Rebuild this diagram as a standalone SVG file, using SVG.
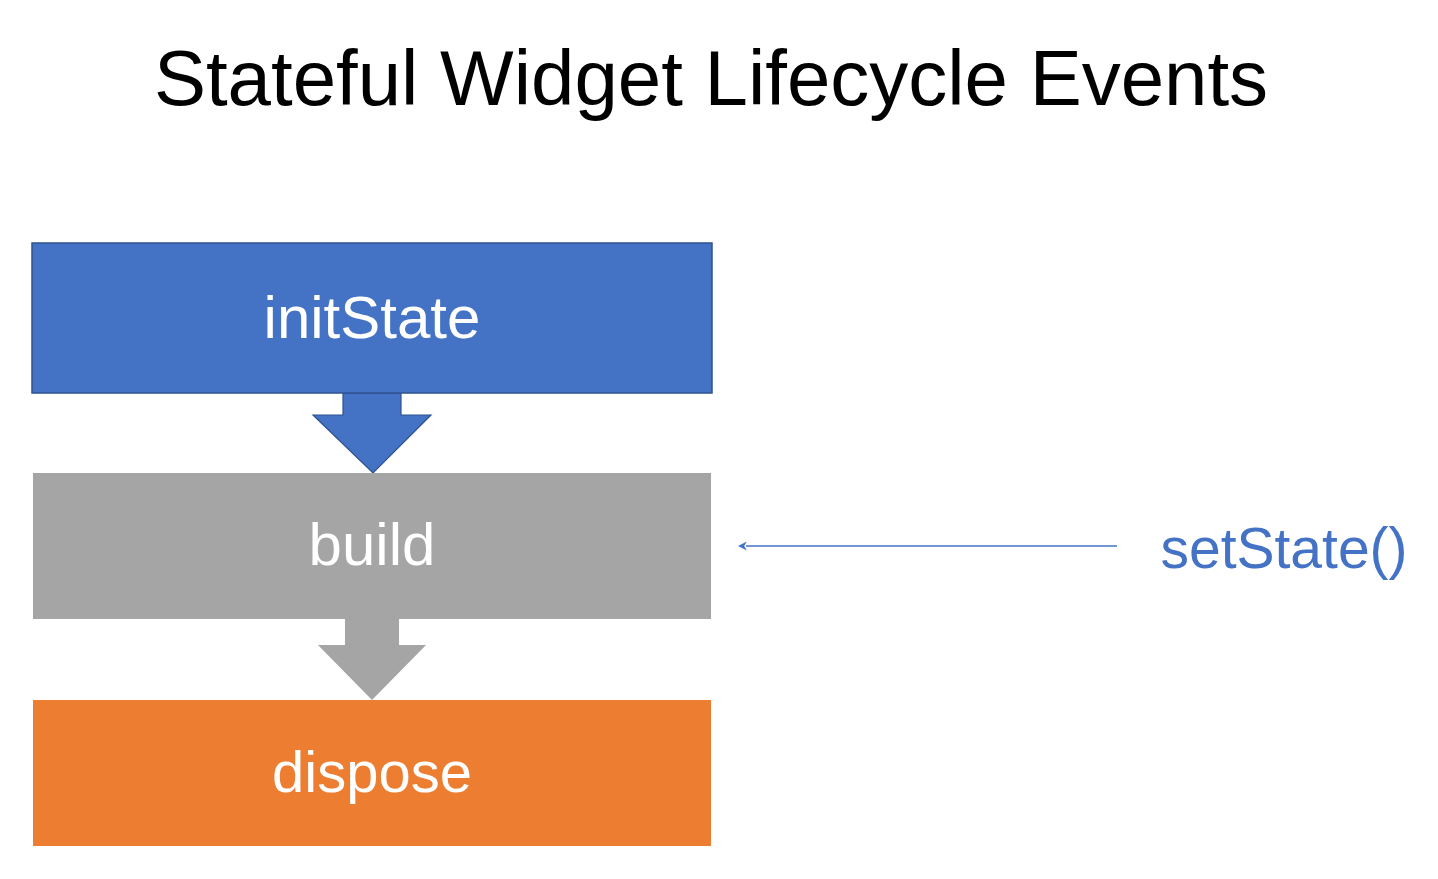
<svg xmlns="http://www.w3.org/2000/svg" width="1438" height="879" viewBox="0 0 1438 879">
<style>
.t{font-family:"Liberation Sans",Arial,sans-serif;text-anchor:middle}
.w{fill:#ffffff}
</style>
<defs>
<marker id="ah" viewBox="0 0 10 10" refX="1" refY="5" markerWidth="6" markerHeight="6" orient="auto-start-reverse" markerUnits="strokeWidth">
<path d="M0,0 L10,5 L0,10 L3,5 Z" fill="#4472C4"/>
</marker>
</defs>
<rect width="1438" height="879" fill="#ffffff"/>
<text class="t" x="711" y="105" font-size="78" fill="#000000">Stateful Widget Lifecycle Events</text>
<g id="connectors">
<path d="M343,393 L401,393 L401,415 L431,415 L373,473 L313,415 L343,415 Z" fill="#4472C4" stroke="#2F528F" stroke-width="1.2"/>
<path d="M345,619 L399,619 L399,645 L426,645 L372,700 L318,645 L345,645 Z" fill="#A5A5A5"/>
<line x1="1117" y1="546" x2="746" y2="546" stroke="#4472C4" stroke-width="1.5" marker-end="url(#ah)"/>
</g>
<g id="initState">
<rect x="32" y="243" width="680" height="150" fill="#4472C4" stroke="#2F528F" stroke-width="1.5"/>
<text class="t w" x="372" y="338" font-size="60">initState</text>
</g>
<g id="build">
<rect x="33" y="473" width="678" height="146" fill="#A5A5A5"/>
<text class="t w" x="372" y="565" font-size="60">build</text>
</g>
<g id="dispose">
<rect x="33" y="700" width="678" height="146" fill="#ED7D31"/>
<text class="t w" x="372" y="792" font-size="58">dispose</text>
</g>
<g id="setState">
<text class="t" x="1284" y="568" font-size="57" fill="#4472C4">setState()</text>
</g>
</svg>
